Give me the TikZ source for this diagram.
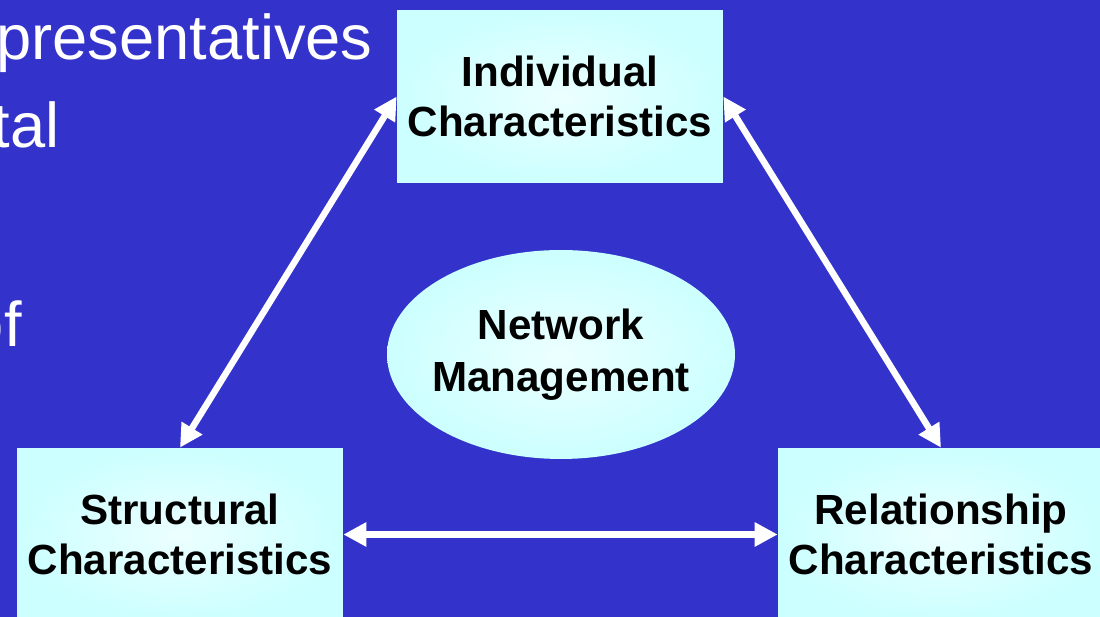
\documentclass[tikz,border=0pt]{standalone}
\usepackage{fontspec}
\setmainfont{Liberation Sans}
\usetikzlibrary{arrows.meta,shapes.geometric}
\definecolor{slideblue}{RGB}{51,51,204}
\definecolor{boxcyan}{RGB}{204,255,255}
\definecolor{boxglow}{RGB}{236,255,255}
\tikzset{
  charbox/.style={rectangle, inner color=boxglow, outer color=boxcyan,
    minimum width=6.52cm, minimum height=3.46cm, align=center,
    font=\bfseries\fontsize{24}{28.5}\selectfont},
  mgmtoval/.style={ellipse, inner color=boxglow, outer color=boxcyan,
    inner xsep=-0.12cm, minimum width=6.96cm, minimum height=4.18cm, align=center,
    font=\bfseries\fontsize{24}{29.5}\selectfont},
  slidetext/.style={text=white, inner sep=0pt, anchor=base east,
    font=\fontsize{36}{42}\selectfont},
  link/.style={white, line width=0.13cm,
    {Triangle[length=0.46cm,width=0.46cm]}-{Triangle[length=0.46cm,width=0.46cm]}}
}
\begin{document}
\begin{tikzpicture}[x=0.02cm,y=-0.02cm]
      \useasboundingbox (0,0) rectangle (1100,617);
      \clip (0,0) rectangle (1100,617);
      \fill[slideblue] (0,0) rectangle (1100,617);
      % bits of the slide text behind the figure
      \node[slidetext] (line1) at (373,60) {presentatives};
      \node[slidetext] (line2) at (60,148) {tal};
      \node[slidetext] (line3) at (22,347) {of};
      % the three sets of characteristics
      \node[charbox] (indiv) at (560,96.5) {Individual\\Characteristics};
      \node[charbox] (struct) at (180,534.5) {Structural\\Characteristics};
      \node[charbox] (relat) at (941,534.5) {Relationship\\Characteristics};
      \node[mgmtoval] (netmgmt) at (561,354.5) {Network\\Management};
      % links
      \draw[link] (struct.north) -- (indiv.west);
      \draw[link] (indiv.east) -- (relat.north);
      \draw[link] (struct.east) -- (relat.west);
\end{tikzpicture}
\end{document}
